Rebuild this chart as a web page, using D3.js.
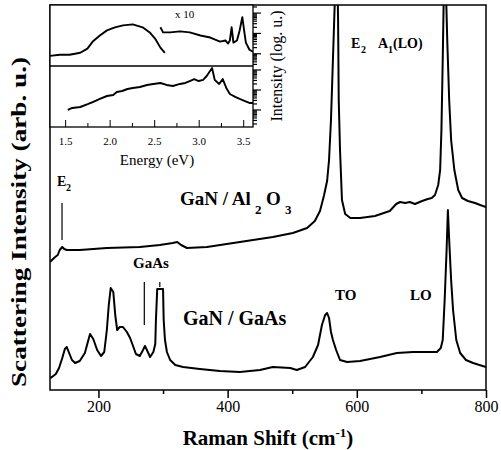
<!DOCTYPE html>
<html><head><meta charset="utf-8">
<script src="https://cdn.jsdelivr.net/npm/d3@7"></script>
<style>
body{margin:0;background:#fff}
text{font-family:"Liberation Serif","Times New Roman",serif;fill:#000}
</style></head>
<body><svg id="c" width="501" height="450"></svg>
<script>
// ---- Main Raman spectra (Raman shift cm-1, arbitrary intensity) ----
const shiftAl = [125,128,133,137,140,144,147,151,171,213,264,295,315,322,328,337,368,419,470,501,523,535,543,549,554,557,560,562,565,569,571,572,574,577,582,590,605,628,651,661,667,675,682,690,701,710,716,721,726,729,731,733,736,740,743,746,751,757,763,772,783,791,800];
const intAl   = [128,130,133,135,140,143,141,140,140,142,143,145,147,148,145,142,143,148,153,157,162,169,179,194,209,230,270,310,370,450,370,290,240,190,176,172,172,174,179,186,188,187,188,186,189,191,192,195,205,220,260,330,450,350,290,250,220,200,192,189,187,185,183];

const shiftGa = [125,128,134,139,144,148,151,154,159,164,171,179,184,187,192,198,204,209,213,216,219,223,226,229,233,238,244,249,253,258,264,269,272,275,280,285,288,289,291,300,301,303,306,311,319,331,357,388,419,450,470,497,507,520,532,540,546,551,554,557,560,563,568,574,585,605,636,662,687,724,730,733,736,739,741,743,746,749,754,760,769,780,800];
const intGa   = [12,13,16,22,32,41,43,38,30,27,29,37,49,56,51,40,34,38,60,85,102,98,75,60,63,63,58,52,45,36,34,40,44,40,33,38,46,70,101,101,70,50,38,30,25,23,21,19,18,20,23,22,20,23,33,45,65,75,77,72,58,50,40,30,28,29,33,37,38,38,42,50,90,140,180,150,110,80,50,37,30,27,23];

const xMajor = [200,400,600,800];
const xMinor = [300,500,700];

// ---- Inset PL spectra (energy eV, intensity log units) ----
const ePL  = [1.33,1.44,1.55,1.67,1.75,1.81,1.89,1.97,2.06,2.15,2.26,2.37,2.45,2.51,2.57,2.62];
const iPL  = [0.79,0.89,0.89,1.12,1.78,3.98,7.9,14.1,20,25,28,20,11.2,5.6,2.0,1.12];
const eX10 = [2.57,2.60,2.68,2.79,2.90,3.02,3.13,3.24,3.30,3.33,3.35,3.37,3.39,3.43,3.46,3.49,3.51,3.53,3.57,3.61];
const iX10 = [20,11.2,11.2,12.6,11.2,7.9,6.3,3.98,4.5,3.16,4.5,20,3.55,4.5,14.1,63,14.1,3.55,1.58,1.26];
const eBot = [1.53,1.58,1.67,1.76,1.81,1.89,1.97,2.04,2.08,2.14,2.20,2.26,2.34,2.42,2.49,2.57,2.64,2.71,2.79,2.85,2.90,2.95,3.00,3.05,3.09,3.15,3.18,3.23,3.27,3.31,3.35,3.41,3.46,3.52,3.57,3.61];
const iBot = [1.0,1.26,1.41,2.0,2.5,3.55,5.0,5.6,7.9,8.9,11.2,12.6,14.1,17.8,20,22.4,17.8,15.8,20,22.4,28,35,28,32,50,126,32,20,35,12.6,6.3,4.5,3.55,2.8,2.24,2.24];
const eMajor = [1.5,2.0,2.5,3.0,3.5];
const eMinor = [1.75,2.25,2.75,3.25];

const svg = d3.select("#c");
const x = d3.scaleLinear().domain([125,800]).range([50,486]);
const y = d3.scaleLinear().domain([0,385]).range([390,5]);

const defs = svg.append("defs");
defs.append("clipPath").attr("id","mc").append("rect").attr("x",50).attr("y",5).attr("width",436).attr("height",385);

const line = (xs, ys) => d3.line().x((d,i)=>xs(d[0])).y(d=>ys(d[1]));
const zip = (a,b) => a.map((v,i)=>[v,b[i]]);

const g = svg.append("g").attr("clip-path","url(#mc)");
g.append("path").attr("d", line(x,y)(zip(shiftAl,intAl))).attr("fill","none").attr("stroke","#000").attr("stroke-width",2).attr("stroke-linejoin","round");
g.append("path").attr("d", line(x,y)(zip(shiftGa,intGa))).attr("fill","none").attr("stroke","#000").attr("stroke-width",2).attr("stroke-linejoin","round");

// markers
const mk = [[143.6,150,187],[271,65,108],[295,103,108]];
svg.selectAll(".mk").data(mk).join("line").attr("x1",d=>x(d[0])).attr("x2",d=>x(d[0])).attr("y1",d=>y(d[1])).attr("y2",d=>y(d[2])).attr("stroke","#000").attr("stroke-width",1.2);

// frame
svg.append("rect").attr("x",50).attr("y",5).attr("width",436).attr("height",385).attr("fill","none").attr("stroke","#000").attr("stroke-width",1.5);

// x axes
const ax = svg.append("g").attr("transform","translate(0,390)")
  .call(d3.axisBottom(x).tickValues(xMajor).tickSize(8).tickPadding(3).tickFormat(d3.format("d")));
ax.select(".domain").remove();
ax.selectAll("line").attr("stroke-width",1.5);
ax.selectAll("text").attr("font-size",16).style("font-family","'Liberation Serif',serif");
const axm = svg.append("g").attr("transform","translate(0,390)")
  .call(d3.axisBottom(x).tickValues(xMinor).tickSize(4).tickFormat(""));
axm.select(".domain").remove();
axm.selectAll("line").attr("stroke-width",1.5);

// ---- inset ----
const xe = d3.scaleLinear().domain([1.33,3.61]).range([50,253]);
const yT = d3.scaleLog().domain([0.25,250]).range([66,5]);
const yB = d3.scaleLog().domain([0.141,158]).range([127,66]);
svg.append("rect").attr("x",50).attr("y",5).attr("width",203).attr("height",122).attr("fill","#fff").attr("stroke","#000").attr("stroke-width",1.3);
svg.append("line").attr("x1",50).attr("x2",253).attr("y1",66).attr("y2",66).attr("stroke","#000").attr("stroke-width",1.3);
defs.append("clipPath").attr("id","ct").append("rect").attr("x",50).attr("y",5).attr("width",203).attr("height",61);
defs.append("clipPath").attr("id","cb").append("rect").attr("x",50).attr("y",66).attr("width",203).attr("height",61);
const gt = svg.append("g").attr("clip-path","url(#ct)");
gt.append("path").attr("d",line(xe,yT)(zip(ePL,iPL))).attr("fill","none").attr("stroke","#000").attr("stroke-width",1.9).attr("stroke-linejoin","round");
gt.append("path").attr("d",line(xe,yT)(zip(eX10,iX10))).attr("fill","none").attr("stroke","#000").attr("stroke-width",1.9).attr("stroke-linejoin","round");
const gb = svg.append("g").attr("clip-path","url(#cb)");
gb.append("path").attr("d",line(xe,yB)(zip(eBot,iBot))).attr("fill","none").attr("stroke","#000").attr("stroke-width",1.9).attr("stroke-linejoin","round");

const ia = svg.append("g").attr("transform","translate(0,127)")
  .call(d3.axisBottom(xe).tickValues(eMajor).tickSize(-7).tickPadding(10).tickFormat(d3.format(".1f")));
ia.select(".domain").remove();
ia.selectAll("text").attr("font-size",11).style("font-family","'Liberation Serif',serif");
const iam = svg.append("g").attr("transform","translate(0,127)")
  .call(d3.axisBottom(xe).tickValues(eMinor).tickSize(-4).tickFormat(""));
iam.select(".domain").remove();

function logTicks(sc){
  const t = sc.ticks().filter(v=>v>=sc.domain()[0]&&v<=sc.domain()[1]);
  svg.append("g").selectAll("line").data(t).join("line")
    .attr("x1",253).attr("x2",d=>Math.abs(Math.log10(d)-Math.round(Math.log10(d)))<1e-6?261:257)
    .attr("y1",d=>sc(d)).attr("y2",d=>sc(d)).attr("stroke","#000").attr("stroke-width",1.2);
}
logTicks(yT); logTicks(yB);

// ---- texts ----
function T(txt,xx,yy,size,bold){return svg.append("text").attr("x",xx).attr("y",yy).attr("font-size",size).attr("font-weight",bold?"bold":"normal").text(txt);}
T("x 10",175,18,11,false);
T("Energy (eV)",157,165,15,false).attr("text-anchor","middle");
svg.append("text").attr("transform","translate(282,66) rotate(-90)").attr("text-anchor","middle").attr("font-size",16).text("Intensity (log. u.)");

T("E",57,186,14,true); T("2",66,191,10,true);
T("GaN / Al",180,205,19,true); T("2",255,214,13,true); T("O",266,205,19,true); T("3",285,214,13,true);
T("E",351,48,14,true); T("2",361,53,10,true); T("A",378,48,14,true); T("1",388,53,10,true); T("(LO)",393,48,14,true);
T("GaAs",133,268,15,true);
T("GaN / GaAs",183,325,20,true);
T("TO",335,300,15,true);
T("LO",410,300,15,true);

const xl = svg.append("text").attr("x",268).attr("y",445).attr("text-anchor","middle").attr("font-size",21).attr("font-weight","bold");
xl.append("tspan").text("Raman Shift (cm");
xl.append("tspan").attr("font-size",13).attr("dy",-8).text("-1");
xl.append("tspan").attr("dy",8).text(")");

svg.append("text").attr("transform","translate(26,222) rotate(-90)").attr("text-anchor","middle").attr("font-size",21).attr("font-weight","bold")
  .attr("textLength",330).attr("lengthAdjust","spacingAndGlyphs").text("Scattering Intensity (arb. u.)");
</script></body></html>
